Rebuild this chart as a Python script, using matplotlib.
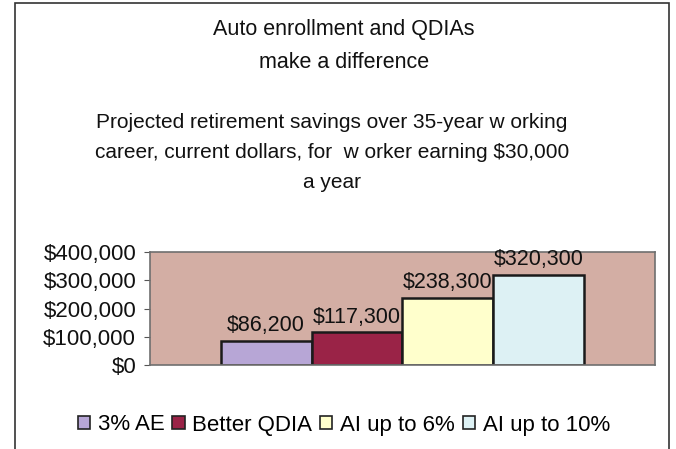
import matplotlib.pyplot as plt
from matplotlib.patches import Rectangle
from matplotlib.ticker import FuncFormatter

plt.rcParams['font.family'] = ['Liberation Sans', 'DejaVu Sans']

# data
series = ["3% AE", "Better QDIA", "AI up to 6%", "AI up to 10%"]
savings = [86200, 117300, 238300, 320300]
bar_colors = ["#b7a6d6", "#9a2347", "#ffffcc", "#ddf1f4"]
title_lines = ["Auto enrollment and QDIAs", "make a difference"]
subtitle_lines = ["Projected retirement savings over 35-year w orking",
                  "career, current dollars, for  w orker earning $30,000",
                  "a year"]

fig = plt.figure(figsize=(6.76, 4.49), dpi=100)
W, H = 676, 449

# outer chart border
fig.patches.append(Rectangle((15 / W, -0.05), 654 / W, 1.05 - 3 / H, transform=fig.transFigure,
                             fill=False, edgecolor="#333333", lw=1.2))

# plot area: x 150-655, y 252-365 (pixels)
ax = fig.add_axes([150 / W, 1 - 365 / H, 505 / W, 113 / H])
ax.set_facecolor("#d3aea4")

x = list(range(len(savings)))
bars = ax.bar(x, savings, width=1.0, color=bar_colors, edgecolor="#1a1a1a", linewidth=1.8, label=series)
for b, v in zip(bars, savings):
    ax.text(b.get_x() + b.get_width() / 2, v + 15000, "${:,}".format(v),
            ha="center", va="bottom", fontsize=15.5, color="#111111")

ax.set_xlim(-1.275, 4.275)
ax.set_ylim(0, 400000)
ax.set_yticks([0, 100000, 200000, 300000, 400000])
ax.yaxis.set_major_formatter(FuncFormatter(lambda v, p: "${:,.0f}".format(v)))
ax.tick_params(axis="y", labelsize=16, length=4, direction="out", colors="#555555", labelcolor="#111111", pad=6)
ax.set_xticks([])
for s in ax.spines.values():
    s.set_color("#6f6f6f")
    s.set_linewidth(1.2)

# titles
for txt, yp in zip(title_lines, [30, 62]):
    fig.text(344 / W, 1 - yp / H, txt, ha="center", va="center", fontsize=15.5, color="#111111")
for txt, yp in zip(subtitle_lines, [122, 153, 183]):
    fig.text(332 / W, 1 - yp / H, txt, ha="center", va="center", fontsize=15, color="#111111")

# legend
handles = [Rectangle((0, 0), 1, 1, facecolor=c, edgecolor="#222222", lw=1.2) for c in bar_colors]
fig.legend(handles, series, loc="center", bbox_to_anchor=(344 / W, 1 - 425 / H), ncol=4,
           frameon=False, fontsize=16, handlelength=0.55, handleheight=0.55,
           handletextpad=0.35, columnspacing=0.35, borderaxespad=0)

plt.savefig("out.png", dpi=100)
